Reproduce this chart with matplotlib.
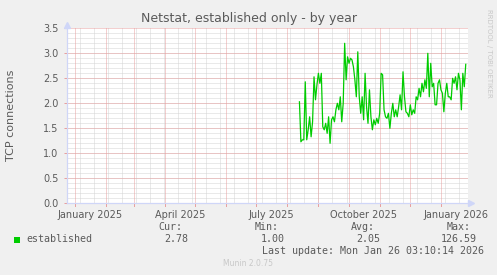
import numpy as np
import pandas as pd
import matplotlib
matplotlib.use('Agg')
import matplotlib.pyplot as plt

# --- data ---
first_day = '2025-08-13'
last_day = '2026-01-26'
established = [
    2.03, 1.23, 1.27, 1.27, 2.43, 1.27, 1.47, 1.73, 1.33, 1.63,
    2.53, 2.07, 2.37, 2.60, 2.40, 2.60, 1.53, 1.47, 1.60, 1.40,
    1.73, 1.20, 1.67, 1.73, 1.63, 1.87, 2.00, 1.87, 2.13, 1.63,
    2.00, 3.20, 2.47, 2.93, 2.80, 2.90, 2.87,
    2.73, 2.47, 2.13, 3.03, 2.13, 1.80, 2.13, 1.67, 2.60, 1.93,
    1.60, 2.27, 1.73, 1.47, 1.67, 1.57, 1.70, 1.60, 1.80, 2.60,
    2.57, 1.87, 1.73, 1.70, 1.80, 1.50, 1.80, 2.00, 1.73, 1.87,
    1.73, 1.93, 2.17, 1.87, 2.63, 2.13, 1.83, 1.80,
    1.73, 1.97, 1.77, 1.87, 1.80, 2.13, 2.07, 2.30, 2.13, 2.40,
    2.23, 2.47, 2.30, 3.00, 2.13, 2.80, 2.33, 2.40, 1.97, 1.97,
    2.40, 2.47, 2.27, 2.20, 1.83, 2.20, 2.40, 2.13, 2.13, 2.07,
    2.50, 2.40, 2.53, 2.27, 2.60, 2.47, 1.87, 2.60, 2.33, 2.78,
]

y_ticks = [0.0, 0.5, 1.0, 1.5, 2.0, 2.5, 3.0, 3.5]
x_labels = ['January 2025', 'April 2025', 'July 2025', 'October 2025', 'January 2026']
x_label_dates = ['2025-01-16', '2025-04-16', '2025-07-16', '2025-10-16', '2026-01-16']

cur_val, min_val, avg_val, max_val = '2.78', '1.00', '2.05', '126.59'
last_update = 'Mon Jan 26 03:10:14 2026'

# --- munin/rrdtool look ---
BACK = '#f0f0f0'
FONT = '#5a5a5a'
MGRID = '#e8a0a0'
GRID = '#d4d4d4'
AXIS = '#cfd6f8'
GREEN = '#00cc00'

W, H = 497, 275
fig = plt.figure(figsize=(W / 100, H / 100), dpi=100, facecolor=BACK)
ax = fig.add_axes([67 / W, 1 - 203.3 / H, 401 / W, 175 / H])
ax.set_facecolor('white')

t0 = pd.Timestamp('2024-12-24')
t1 = pd.Timestamp('2026-01-28 06:00')
ax.set_xlim(t0, t1)
ax.set_ylim(0, 3.5)

dot = dict(lw=0.72, dashes=(1, 1))
# minor grid: every 0.1 and every second monday
for v in np.arange(0.1, 3.5, 0.1):
    ax.axhline(v, color=GRID, zorder=1, **dot)
for d in pd.date_range('2024-12-23', t1, freq='14D'):
    if d > t0:
        ax.axvline(d, color=GRID, zorder=1, **dot)
# major grid: 0.5 steps and months
for v in y_ticks[1:]:
    ax.axhline(v, color=MGRID, zorder=2, **dot)
for d in pd.date_range('2025-01-01', t1, freq='MS'):
    ax.axvline(d, color=MGRID, zorder=2, **dot)
    ax.plot([d, d], [0, -0.045], color=MGRID, lw=0.72, clip_on=False, zorder=2)

dates = pd.date_range(first_day, last_day, periods=len(established))
ax.plot(dates, established, color=GREEN, lw=0.9, zorder=4)

for s in ['top', 'right']:
    ax.spines[s].set_visible(False)
for s in ['left', 'bottom']:
    ax.spines[s].set_color(AXIS)
    ax.spines[s].set_linewidth(0.8)
    ax.spines[s].set_zorder(5)
ax.plot([0], [1.02], marker='^', color=AXIS, ms=4, transform=ax.transAxes, clip_on=False)
ax.plot([1.008], [0], marker='>', color=AXIS, ms=4, transform=ax.transAxes, clip_on=False)
ax.plot([0, 0], [0, 1.02], color=AXIS, lw=0.8, transform=ax.transAxes, clip_on=False)
ax.plot([0, 1.008], [0, 0], color=AXIS, lw=0.8, transform=ax.transAxes, clip_on=False)

ax.set_yticks(y_ticks)
ax.set_yticklabels([f'{v:.1f}' for v in y_ticks])
ax.tick_params(axis='y', length=2, color=MGRID, width=0.72, pad=4,
               labelsize=7, labelcolor=FONT)
ax.set_xticks(pd.to_datetime(x_label_dates))
ax.set_xticklabels(x_labels)
ax.tick_params(axis='x', length=0, pad=5, labelsize=7, labelcolor=FONT)

# texts
def px(x, y):
    return x / W, 1 - y / H

fig.text(*px(249, 18.5), 'Netstat, established only - by year', ha='center', va='center',
         fontsize=9, color=FONT)
fig.text(*px(11, 115), 'TCP connections', rotation=90, ha='center', va='center',
         fontsize=8, color=FONT)
fig.text(*px(489, 53), 'RRDTOOL / TOBI OETIKER', rotation=270, ha='center', va='center',
         fontsize=5, color='#c8c8c8')

mono = dict(family='DejaVu Sans Mono', fontsize=7.2, color=FONT, va='center')
fig.patches.append(plt.Rectangle(px(14, 242.5), 6 / W, 6 / H, transform=fig.transFigure,
                                 facecolor=GREEN, edgecolor='none'))
fig.text(*px(26, 239.5), 'established', ha='left', **mono)
for head, val, hx, vx in [('Cur:', cur_val, 158, 188.5), ('Min:', min_val, 255, 284.5),
                          ('Avg:', avg_val, 351, 380.5), ('Max:', max_val, 447, 477)]:
    fig.text(*px(hx, 227.5), head, ha='left', **mono)
    fig.text(*px(vx, 239.5), val, ha='right', **mono)
fig.text(*px(261.5, 251.5), 'Last update: ' + last_update, ha='left', **mono)
fig.text(*px(248, 264), 'Munin 2.0.75', ha='center', va='center', fontsize=5.5, color='#c8c8c8')

fig.savefig('out.png', dpi=100, facecolor=BACK)
